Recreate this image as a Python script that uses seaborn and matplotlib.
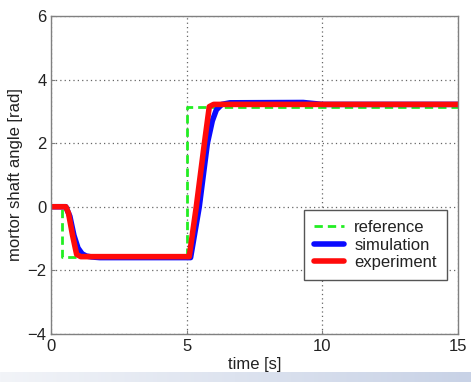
import numpy as np
import pandas as pd
from matplotlib import pyplot as plt
import seaborn as sns

# values
t_ref = [0, 0.4, 0.4, 5.0, 5.0, 15]
y_ref = [0, 0, -1.571, -1.571, 3.1416, 3.1416]

t_sim = [0, 0.55, 0.7, 0.85, 1.0, 1.15, 1.3, 1.5, 1.8, 5.15, 5.3, 5.47, 5.77, 5.95, 6.1, 6.3, 6.6, 9.3, 10.0, 15]
y_sim = [0, 0, -0.3, -0.9, -1.3, -1.48, -1.55, -1.58, -1.6, -1.6, -0.85, 0.0, 2.0, 2.7, 3.05, 3.22, 3.27, 3.28, 3.22, 3.22]

t_exp = [0, 0.55, 0.65, 0.8, 0.95, 1.1, 5.1, 5.36, 5.66, 5.84, 6.0, 15]
y_exp = [0, 0, -0.2, -0.9, -1.5, -1.57, -1.57, 0.0, 2.0, 3.15, 3.22, 3.22]

sns.set_style('ticks')
plt.rcParams['font.family'] = ['Liberation Sans', 'DejaVu Sans']

fig = plt.figure(figsize=(4.71, 3.82), dpi=100)
ax = fig.add_axes([0.108, 0.126, 0.864, 0.832])

sns.lineplot(x=t_ref, y=y_ref, ax=ax, color='#22ee22', lw=2.0, ls=(0, (3.0, 1.8)),
             sort=False, estimator=None, label='reference')
sns.lineplot(x=t_sim, y=y_sim, ax=ax, color='#0a0aff', lw=4.0,
             sort=False, estimator=None, label='simulation')
sns.lineplot(x=t_exp, y=y_exp, ax=ax, color='#ff0a0a', lw=4.0,
             sort=False, estimator=None, label='experiment')

ax.set_xlim(0, 15)
ax.set_ylim(-4, 6)
ax.set_xticks([0, 5, 10, 15])
ax.set_yticks([-4, -2, 0, 2, 4, 6])
ax.grid(True, ls=(0, (1, 2.5)), color='#666666', lw=0.9)
for s in ax.spines.values():
    s.set_color('#808080')
    s.set_linewidth(1.0)
ax.tick_params(direction='in', length=3, color='#808080', labelsize=12, labelcolor='#222222', pad=3)
ax.tick_params(axis='x', pad=4)
ax.set_xlabel('time [s]', fontsize=12, color='#222222', labelpad=2)
ax.set_ylabel('mortor shaft angle [rad]', fontsize=12, color='#222222', labelpad=3)

leg = ax.legend(loc='lower right', bbox_to_anchor=(0.973, 0.17),
                fontsize=12, fancybox=False, framealpha=1, edgecolor='#555555',
                handlelength=1.8, borderpad=0.6, labelspacing=0.14, handletextpad=0.6,
                borderaxespad=0)
leg.get_frame().set_linewidth(1.0)
for txt in leg.get_texts():
    txt.set_color('#222222')

# light gradient strip at the bottom of the screenshot
strip = fig.add_axes([0, 0, 1, 0.026])
strip.imshow(np.linspace(0, 1, 256)[None, :], aspect='auto', cmap=sns.blend_palette(['#f2f4f8', '#c8d2e6'], as_cmap=True))
strip.set_axis_off()

fig.savefig('out.png', dpi=100)
